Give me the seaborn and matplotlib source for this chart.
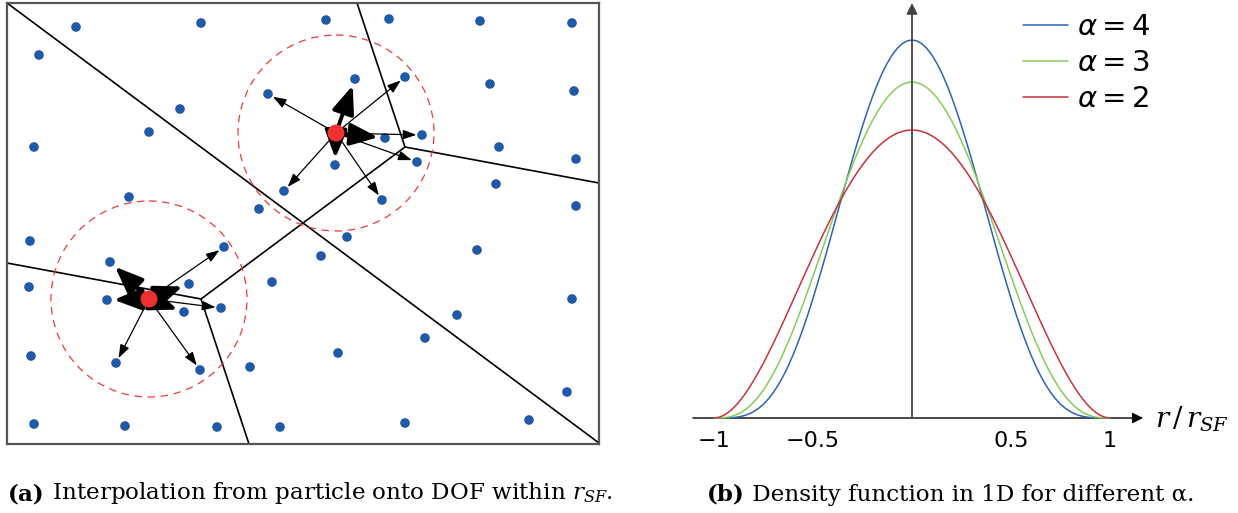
import numpy as np
import pandas as pd
import matplotlib
matplotlib.use("Agg")
import matplotlib.pyplot as plt
import seaborn as sns
from matplotlib.patches import Circle, ArrowStyle

# ---------------- Data: panel (a) ----------------
# DOF positions (domain coordinates, y pointing down)
dof_x = [76, 201, 326, 389, 480, 572, 39, 268, 355, 405, 490, 574, 180, 149, 34,
         385, 422, 499, 576, 335, 417, 496, 284, 382, 576, 129, 259, 30, 224, 347,
         321, 477, 110, 29, 189, 272, 107, 184, 221, 572, 457, 425, 31, 116, 200,
         250, 338, 567, 34, 125, 217, 280, 405, 529]
dof_y = [27, 23, 20, 19, 21, 23, 55, 94, 79, 77, 84, 91, 109, 132, 147,
         138, 135, 147, 159, 165, 162, 184, 191, 200, 206, 197, 209, 241, 247, 237,
         256, 250, 262, 287, 284, 282, 300, 312, 308, 299, 315, 338, 356, 363, 370,
         367, 353, 392, 424, 426, 427, 427, 423, 420]
# particles
particle_x = [336, 149]
particle_y = [133, 299]
support_radius = 98
# cell edges
edge_x0 = [7, 357, 405, 405, 7, 201]
edge_y0 = [3, 3, 147, 147, 263, 299]
edge_x1 = [599, 405, 599, 201, 201, 249]
edge_y1 = [443, 147, 183, 299, 299, 444]
domain_x = [7, 599]
domain_y = [3, 444]

# ---------------- Data: panel (b) ----------------
r_half = [0.000, 0.025, 0.050, 0.075, 0.100, 0.125, 0.150, 0.175, 0.200, 0.225,
          0.250, 0.275, 0.300, 0.325, 0.350, 0.375, 0.400, 0.425, 0.450, 0.475,
          0.500, 0.525, 0.550, 0.575, 0.600, 0.625, 0.650, 0.675, 0.700, 0.725,
          0.750, 0.775, 0.800, 0.825, 0.850, 0.875, 0.900, 0.925, 0.950, 0.975,
          1.000]
dens_alpha4 = [1.2305, 1.2274, 1.2182, 1.2030, 1.1820, 1.1553, 1.1234, 1.0865,
               1.0451, 0.9996, 0.9505, 0.8984, 0.8438, 0.7873, 0.7296, 0.6711,
               0.6126, 0.5546, 0.4977, 0.4425, 0.3893, 0.3388, 0.2912, 0.2470,
               0.2064, 0.1697, 0.1369, 0.1081, 0.0832, 0.0623, 0.0451, 0.0313,
               0.0207, 0.0128, 0.0073, 0.0037, 0.0016, 0.0005, 0.0001, 0.0000,
               0.0]
dens_alpha3 = [1.0938, 1.0917, 1.0856, 1.0754, 1.0613, 1.0433, 1.0216, 0.9963,
               0.9677, 0.9359, 0.9012, 0.8639, 0.8242, 0.7825, 0.7390, 0.6942,
               0.6483, 0.6017, 0.5548, 0.5079, 0.4614, 0.4157, 0.3712, 0.3280,
               0.2867, 0.2475, 0.2107, 0.1764, 0.1451, 0.1168, 0.0916, 0.0697,
               0.0510, 0.0356, 0.0234, 0.0141, 0.0075, 0.0033, 0.0010, 0.0001,
               0.0]
dens_alpha2 = [0.9375, 0.9363, 0.9328, 0.9270, 0.9188, 0.9084, 0.8958, 0.8810,
               0.8640, 0.8450, 0.8240, 0.8011, 0.7763, 0.7499, 0.7219, 0.6924,
               0.6615, 0.6294, 0.5963, 0.5622, 0.5273, 0.4919, 0.4561, 0.4201,
               0.3840, 0.3481, 0.3127, 0.2778, 0.2438, 0.2110, 0.1794, 0.1495,
               0.1215, 0.0956, 0.0722, 0.0515, 0.0338, 0.0195, 0.0089, 0.0023,
               0.0]
series_labels = [r"$\alpha = 4$", r"$\alpha = 3$", r"$\alpha = 2$"]
xtick_vals = [-1, -0.5, 0.5, 1]
xtick_labels = ["\u22121", "\u22120.5", "0.5", "1"]

caption_a = ("(a)", " Interpolation from particle onto DOF within $r_{SF}$.")
caption_b = ("(b)", " Density function in 1D for different \u03b1.")

# ---------------- Styling ----------------
sns.set_style("white")
plt.rcParams["font.family"] = ["DejaVu Sans"]
plt.rcParams["text.color"] = "black"

BLUE_DOT = "#1f59a8"
RED_DOT = "#ee3030"
CURVE_COLORS = ["#2f62b5", "#86cc5a", "#c8323a"]

W, H = 1238, 513
fig = plt.figure(figsize=(W / 100, H / 100), dpi=100)
fig.patch.set_facecolor("white")

# ---------------- Panel (a) ----------------
axL = fig.add_axes([7 / W, (H - 444) / H, 592 / W, 441 / H])
axL.set_xlim(domain_x[0], domain_x[1])
axL.set_ylim(domain_y[1], domain_y[0])
axL.set_xticks([])
axL.set_yticks([])
for sp in axL.spines.values():
    sp.set_color("#555555")
    sp.set_linewidth(1.6)
    sp.set_zorder(10)

for x0, y0, x1, y1 in zip(edge_x0, edge_y0, edge_x1, edge_y1):
    axL.plot([x0, x1], [y0, y1], color="black", lw=1.2, zorder=1,
             solid_capstyle="butt")

for px, py in zip(particle_x, particle_y):
    axL.add_patch(Circle((px, py), support_radius, fill=False, ec="#ee3a3a",
                         lw=0.9, ls=(0, (6, 4.5)), zorder=2))

sns.scatterplot(x=dof_x, y=dof_y, color=BLUE_DOT, s=48, edgecolor="none",
                ax=axL, zorder=4, legend=False)

dx_arr = np.array(dof_x, dtype=float)
dy_arr = np.array(dof_y, dtype=float)
for px, py in zip(particle_x, particle_y):
    d = np.hypot(dx_arr - px, dy_arr - py)
    for tx, ty, dist in zip(dx_arr, dy_arr, d):
        if dist > support_radius or dist < 1:
            continue
        w = (1 - (dist / support_radius) ** 2) ** 2
        if w >= 0.4:
            style = ArrowStyle("-|>", head_length=1.0, head_width=0.4)
            lw, ms, shr = 2.8, 17, 5
        else:
            style = ArrowStyle("-|>", head_length=0.9, head_width=0.32)
            lw, ms, shr = 0.9, 9, 4
        axL.annotate("", xy=(tx, ty), xytext=(px, py),
                     arrowprops=dict(arrowstyle=style, color="black", lw=lw,
                                     mutation_scale=ms, shrinkA=0, shrinkB=shr),
                     zorder=5)

sns.scatterplot(x=particle_x, y=particle_y, color=RED_DOT, s=150,
                edgecolor="none", ax=axL, zorder=7, legend=False)

# ---------------- Panel (b) ----------------
x0px, y0px = 912, 418      # origin in pixels
sx, sy = 198.0, 307.2      # pixels per data unit
axR = fig.add_axes([690 / W, (H - 460) / H, 548 / W, 460 / H])
axR.set_xlim((690 - x0px) / sx, (1238 - x0px) / sx)
axR.set_ylim((y0px - 460) / sy, y0px / sy)
axR.patch.set_alpha(0)

r_full = [-v for v in r_half[::-1]] + r_half[1:]
frames = []
for lab, vals in zip(series_labels, [dens_alpha4, dens_alpha3, dens_alpha2]):
    v_full = vals[::-1] + vals[1:]
    frames.append(pd.DataFrame({"r": r_full, "density": v_full, "series": lab}))
df = pd.concat(frames, ignore_index=True)

sns.lineplot(data=df, x="r", y="density", hue="series", hue_order=series_labels,
             palette=CURVE_COLORS, estimator=None, lw=1.1, ax=axR, zorder=3)

for sp in ["top", "right", "left"]:
    axR.spines[sp].set_visible(False)
axR.spines["bottom"].set_position(("data", 0))
axR.spines["bottom"].set_visible(False)
axR.set_xticks(xtick_vals)
axR.set_xticklabels(xtick_labels, fontsize=16)
axR.tick_params(axis="x", direction="inout", length=9, width=0.9,
                color="#999999", pad=5, labelcolor="black")
axR.set_yticks([])
axR.set_xlabel("")
axR.set_ylabel("")

# axes with arrowheads
axR.annotate("", xy=(1.167, 0), xytext=((693 - x0px) / sx, 0),
             arrowprops=dict(arrowstyle="-|>", color="black", lw=1.0,
                             mutation_scale=16, shrinkA=0, shrinkB=0), zorder=2)
axR.annotate("", xy=(0, (y0px - 3) / sy), xytext=(0, 0),
             arrowprops=dict(arrowstyle="-|>", color="#444444", lw=1.3,
                             mutation_scale=16, shrinkA=0, shrinkB=0), zorder=4)
axR.text((1155 - x0px) / sx, (y0px - 427) / sy, r"$r\,/\,r_{SF}$", fontsize=20,
         math_fontfamily="dejavuserif", ha="left", va="baseline")

handles, labels = axR.get_legend_handles_labels()
for h in handles:
    h.set_linewidth(1.1)
axR.legend(handles, labels, loc="upper left",
           bbox_to_anchor=(1023 / W, 1 - 13 / H), bbox_transform=fig.transFigure,
           frameon=False, fontsize=21, handlelength=1.55, handletextpad=0.3,
           labelspacing=0.28, borderpad=0, borderaxespad=0, labelcolor="black")

# ---------------- Captions ----------------
cap_font = dict(fontsize=16.6, family="DejaVu Serif", math_fontfamily="dejavuserif",
                color="black")
ta = fig.text(8 / W, (H - 506) / H, caption_a[0], fontweight="bold", va="bottom",
              **cap_font)
axR.annotate(caption_a[1], xy=(1, 0), xycoords=ta, va="bottom", ha="left",
             annotation_clip=False, **cap_font)
tb = fig.text(707 / W, (H - 506) / H, caption_b[0], fontweight="bold", va="bottom",
              **cap_font)
axR.annotate(caption_b[1], xy=(1, 0), xycoords=tb, va="bottom", ha="left",
             annotation_clip=False, **cap_font)

fig.savefig("out.png", dpi=100, facecolor="white")
